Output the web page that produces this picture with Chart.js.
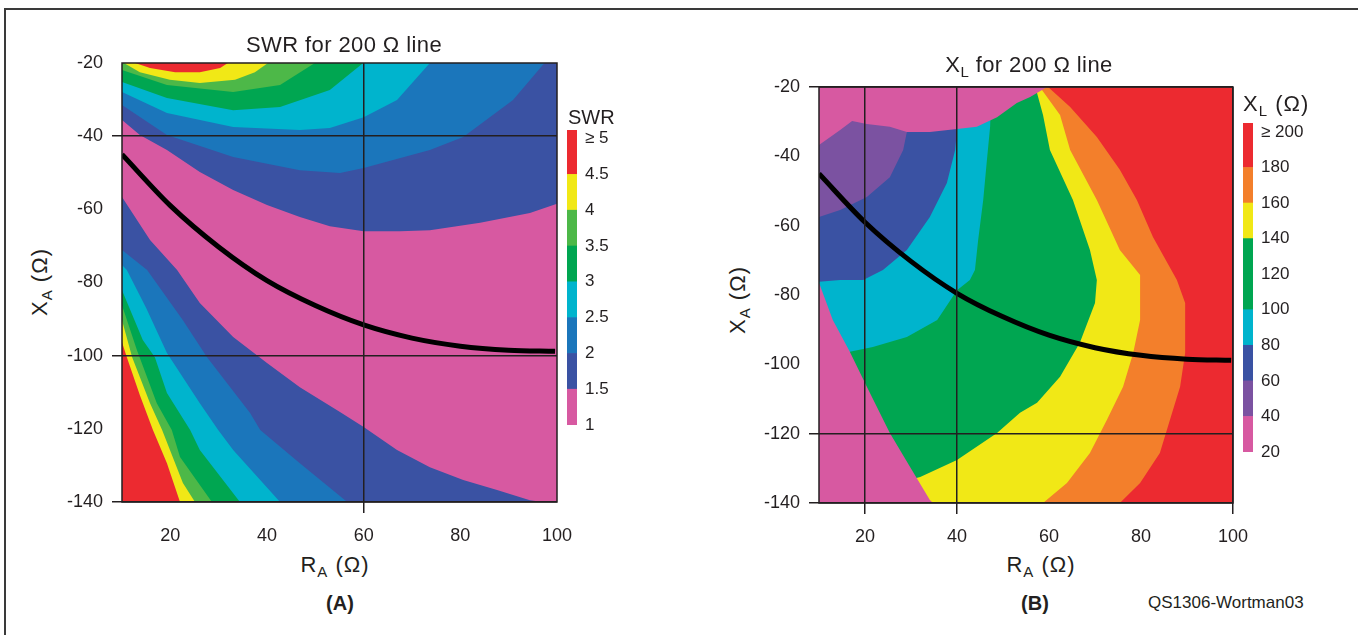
<!DOCTYPE html>
<html>
<head>
<meta charset="utf-8">
<title>SWR and XL for 200 ohm line</title>
<script src="https://cdn.jsdelivr.net/npm/chart.js@4.4.1/dist/chart.umd.min.js"></script>
<style>
  body { margin: 0; background: #fff; font-family: "Liberation Sans", Arial, sans-serif; color: #231f20; }
  #page { position: relative; width: 1358px; height: 635px; overflow: hidden; }
  #frame { position: absolute; left: 4px; top: 8px; width: 1360px; height: 640px; border-top: 2px solid #3a3a3a; border-left: 2px solid #3a3a3a; }
  canvas, .txt { position: absolute; }
  .txt { font-size: 20px; white-space: nowrap; transform: translate(-50%, -50%); }
  .txt sub { font-size: 15px; vertical-align: -5px; }
  .big { font-size: 22px; letter-spacing: 0.4px; }
  .axis { font-size: 22px; letter-spacing: 1px; }
  .rot { transform: translate(-50%, -50%) rotate(-90deg); }
  .left { transform: translate(0, -50%); }
  .bold { font-weight: bold; }
  .small { font-size: 17px; }
</style>
</head>
<body>
<div id="page">
  <div id="frame"></div>

  <canvas id="swrChart" width="527" height="512" style="left:60px; top:38px"></canvas>
  <canvas id="swrBar" width="60" height="335" style="left:567px; top:110px"></canvas>
  <canvas id="xlChart" width="508" height="489" style="left:755px; top:62px"></canvas>
  <canvas id="xlBar" width="80" height="369" style="left:1243px; top:103px"></canvas>

  <div class="txt big" style="left:344px; top:45px">SWR for 200 Ω line</div>
  <div class="txt axis rot" style="left:41px; top:282px">X<sub>A</sub> (Ω)</div>
  <div class="txt axis" style="left:335px; top:566px">R<sub>A</sub> (Ω)</div>
  <div class="txt bold" style="left:340px; top:603px">(A)</div>
  <div class="txt left" style="left:568px; top:117px">SWR</div>

  <div class="txt big" style="left:1029px; top:66px">X<sub>L</sub> for 200 Ω line</div>
  <div class="txt axis rot" style="left:739px; top:300px">X<sub>A</sub> (Ω)</div>
  <div class="txt axis" style="left:1041px; top:566px">R<sub>A</sub> (Ω)</div>
  <div class="txt bold" style="left:1035px; top:603px">(B)</div>
  <div class="txt axis left" style="left:1243px; top:105px">X<sub>L</sub> (Ω)</div>
  <div class="txt left small" style="left:1148px; top:603px">QS1306-Wortman03</div>
</div>

<script>
// axis ranges and ticks, same for both plots
const rMin = 10, rMax = 100;
const xBottom = -140, xTop = -20;
const rTicks = [20, 40, 60, 80, 100];
const xTicks = [-140, -120, -100, -80, -60, -40, -20];

// antenna path (R_A, X_A)
const pathR = [10, 20, 30, 40, 50, 60, 70, 80, 90, 99.6];
const pathX = [-45, -59, -70.3, -79.5, -86.3, -91.6, -95.2, -97.4, -98.5, -98.8];

// SWR plot: contour edges, upper family (near X = -20)
const swrUp15 = [[10, -35.6], [13.7, -39.7], [19.3, -43.8], [26.1, -49.8], [33, -54.7], [40, -58.8], [46.8, -62.1], [53, -64.6], [60, -66], [67.5, -66], [73.7, -65.7], [84.1, -63.7], [94.4, -61], [100, -58.5]];
const swrUp2 = [[10, -31.5], [19.3, -39.7], [33, -45.7], [46.8, -49.3], [55.1, -50.1], [60, -48.7], [73.7, -43.8], [80.6, -40.2], [90.9, -30.1], [97.1, -20.5], [97.5, -20]];
const swrUp25 = [[10, -27.9], [19.3, -33.7], [33, -37.5], [46.8, -38.3], [53, -37.8], [60, -34.8], [66.9, -30.1], [73.7, -20]];
const swrUp3 = [[10, -25.2], [19.3, -29.6], [33, -32.9], [42.7, -32], [53, -27.4], [59.9, -20]];
const swrUp35 = [[10, -21.9], [19.3, -26], [33, -27.9], [42.7, -26], [49.9, -20]];
const swrUp4 = [[10.4, -20], [13.7, -22.5], [19.9, -24.6], [26.1, -25.5], [33.4, -24.6], [37.5, -22.5], [40.2, -20]];
const swrUp45 = [[12.7, -20], [15.8, -21.4], [21, -22.5], [26.1, -22.5], [30.3, -21.4], [31.9, -20]];

// SWR plot: contour edges, lower family (bottom left corner)
const swrLow15 = [[10, -56.6], [15.8, -68.4], [21.4, -76.6], [26.1, -85.6], [33, -94.9], [40, -102], [46.8, -108.6], [55.1, -115.4], [60, -119.5], [66.9, -125.8], [73.7, -130.5], [80.6, -134], [87.6, -136.7], [94.4, -139.5], [97, -140]];
const swrLow2 = [[10, -71.1], [15.2, -76.6], [22.6, -90.3], [27.6, -100.4], [36.5, -115.7], [38.6, -120.3], [46.8, -129.4], [56.6, -140]];
const swrLow25 = [[10, -75.2], [11, -76.6], [15, -87], [19.3, -99.3], [26.1, -113], [29.9, -120.3], [33, -125.8], [42.7, -140]];
const swrLow3 = [[10, -82.1], [14.3, -95.7], [16.8, -100.4], [19.3, -110.2], [24.1, -120.3], [26.1, -125.8], [34.4, -140]];
const swrLow35 = [[10, -86.2], [13.1, -98.5], [17.2, -113], [20.3, -120.3], [22, -127.7], [28.6, -140]];
const swrLow4 = [[10, -90.3], [12.1, -100.4], [15.8, -113], [18.3, -120.3], [22.6, -134.8], [25.1, -140]];
const swrLow45 = [[10, -96.3], [11, -100.4], [13.7, -110.8], [16.4, -120.3], [19.3, -129.4], [22, -140]];

// XL plot: contour edges
const xlEdge180 = [[59.8, -20], [64.6, -25.8], [70.4, -34.4], [75.4, -43.9], [79.1, -52.6], [82.6, -63.3], [87.8, -75.7], [89.6, -82.3], [89.6, -96.7], [88.5, -106.5], [86.3, -116], [84.1, -125.6], [79.8, -134.2], [75.4, -140]];
const xlEdge160 = [[58, -20], [62.4, -28.1], [64.6, -38.2], [70.4, -52.6], [75.4, -67], [79.8, -74.2], [79.8, -87.2], [78.3, -96.7], [76.1, -106.5], [72.6, -116], [68.9, -125.6], [63.9, -134.2], [58.7, -140]];
const xlEdge140 = [[57, -20], [57.4, -21.7], [58.7, -28.1], [60.2, -38.2], [65.2, -52.6], [68.9, -67], [70.4, -75.7], [70, -82.3], [66.7, -93.8], [62.4, -103.6], [57.4, -111.1], [53.7, -114], [48.7, -119.8], [40, -127.6], [32, -132.5]];
const xlEdge100 = [[47.5, -20], [47.2, -31.5], [46.5, -41.1], [45.7, -52.6], [44.6, -64.1], [43.9, -72.8], [42.8, -75.7], [40, -78.6], [35.7, -87.2], [29.1, -92.1], [21.7, -95], [16.7, -96.4]];
const xlEdge80 = [[40, -20], [40, -32.4], [39.6, -38.2], [37.8, -47.7], [34.1, -57.5], [29.1, -67], [23.9, -72.8], [19.6, -75.7], [14.6, -75.7], [10, -76.2]];
const xlEdge60 = [[29.1, -20], [29.1, -33], [28.3, -38.2], [25.4, -46], [20.4, -51.7], [14.6, -55.5], [10, -57.5]];
const xlCapEdge = [[10, -36.7], [14.6, -32.4], [17.2, -29.8], [20.4, -30.7], [25.4, -31.5], [29.1, -33], [34.1, -33], [40, -32.1], [44.3, -31.5], [48.7, -28.7], [53, -24.6], [55.9, -22.9], [59.6, -20]];
const xlWedgeEdge = [[10, -76.5], [13, -87.2], [16.7, -96.4], [20.4, -106.5], [25.4, -119.8], [29.8, -129.6], [34.1, -139.1], [34.8, -140]];

// colour bar levels and labels
const swrLevels = [1, 1.5, 2, 2.5, 3, 3.5, 4, 4.5, 5];
const swrLabels = ['1', '1.5', '2', '2.5', '3', '3.5', '4', '4.5', '\u2265 5'];
const swrBarTop = 5.12;
const xlLevels = [20, 40, 60, 80, 100, 120, 140, 160, 180, 200];
const xlLabels = ['20', '40', '60', '80', '100', '120', '140', '160', '180', '\u2265 200'];
const xlBarTop = 205;

// where the black reference lines sit
const swrGridR = [60];
const swrGridX = [-40, -100, -140];
const xlGridR = [20, 40, 100];
const xlGridX = [-20, -120, -140];

const C = {
  red: '#ec2a30', orange: '#f37f2b', yellow: '#f1e816', lime: '#4db848', green: '#00a651',
  cyan: '#00b4cd', blue: '#1b76bb', navy: '#3a52a3', purple: '#7b52a1', pink: '#d759a1'
};
const ink = '#231f20';
const fontFamily = '"Liberation Sans", Arial, sans-serif';

const swrColors = [C.pink, C.navy, C.blue, C.cyan, C.green, C.lime, C.yellow, C.red];
const xlColors = [C.pink, C.purple, C.navy, C.cyan, C.green, C.green, C.yellow, C.orange, C.red];

const TL = [rMin, xTop], BL = [rMin, xBottom], TR = [rMax, xTop];

function region(edge, color, corners) {
    return { pts: edge.concat(corners), color: color };
}

const swrRegions = [
    region(swrUp15, C.navy, [TR, TL]),
    region(swrUp2, C.blue, [TL]),
    region(swrUp25, C.cyan, [TL]),
    region(swrUp3, C.green, [TL]),
    region(swrUp35, C.lime, [TL]),
    region(swrUp4, C.yellow, []),
    region(swrUp45, C.red, []),
    region(swrLow15, C.navy, [BL]),
    region(swrLow2, C.blue, [BL]),
    region(swrLow25, C.cyan, [BL]),
    region(swrLow3, C.green, [BL]),
    region(swrLow35, C.lime, [BL]),
    region(swrLow4, C.yellow, [BL]),
    region(swrLow45, C.red, [BL])
];

const xlRegions = [
    region(xlEdge180, C.orange, [BL, TL]),
    region(xlEdge160, C.yellow, [BL, TL]),
    region(xlEdge140, C.green, [BL, TL]),
    region(xlEdge100, C.cyan, [BL, TL]),
    region(xlEdge80, C.navy, [TL]),
    region(xlEdge60, C.purple, [TL]),
    region(xlCapEdge, C.pink, [TL]),
    region(xlWedgeEdge, C.pink, [BL])
];

// base colour under the contours and the box round the plot
const plotFrame = {
    id: 'plotFrame',
    beforeDatasetsDraw(chart, args, opts) {
        const a = chart.chartArea;
        const ctx = chart.ctx;
        ctx.save();
        ctx.fillStyle = opts.base;
        ctx.fillRect(a.left, a.top, a.width, a.height);
        ctx.restore();
    },
    afterDatasetsDraw(chart) {
        const a = chart.chartArea;
        const ctx = chart.ctx;
        ctx.save();
        ctx.strokeStyle = ink;
        ctx.lineWidth = 1.5;
        ctx.strokeRect(a.left, a.top, a.width, a.height);
        ctx.restore();
    }
};

function makePlot(id, base, regions, gridR, gridX, pad, yWidth) {
    const datasets = regions.map((reg, i) => ({
        data: reg.pts.map(p => ({ x: p[0], y: p[1] })),
        showLine: true,
        fill: 'shape',
        backgroundColor: reg.color,
        borderWidth: 0,
        pointRadius: 0,
        clip: false,
        order: -i
    }));
    datasets.push({
        data: pathR.map((r, i) => ({ x: r, y: pathX[i] })),
        showLine: true,
        fill: false,
        borderColor: '#000',
        borderWidth: 5,
        pointRadius: 0,
        cubicInterpolationMode: 'monotone',
        order: -1000
    });

    const lineAt = list => c => list.includes(c.tick.value) ? ink : 'rgba(0,0,0,0)';

    return new Chart(document.getElementById(id), {
        type: 'scatter',
        data: { datasets: datasets },
        plugins: [plotFrame],
        options: {
            responsive: false,
            animation: false,
            layout: { padding: pad },
            plugins: {
                legend: { display: false },
                tooltip: { enabled: false },
                plotFrame: { base: base }
            },
            scales: {
                x: {
                    type: 'linear', min: rMin, max: rMax,
                    afterBuildTicks: s => { s.ticks = rTicks.map(v => ({ value: v })); },
                    afterFit: s => { s.height = 48; },
                    grid: { z: 1, color: lineAt(gridR), lineWidth: 1.5, tickLength: 11 },
                    border: { display: false },
                    ticks: { color: ink, font: { family: fontFamily, size: 18 }, padding: 12, maxRotation: 0, autoSkip: false }
                },
                y: {
                    type: 'linear', min: xBottom, max: xTop,
                    afterBuildTicks: s => { s.ticks = xTicks.map(v => ({ value: v })); },
                    afterFit: s => { s.width = yWidth; },
                    grid: { z: 1, color: lineAt(gridX), lineWidth: 1.5, tickLength: 10 },
                    border: { display: false },
                    ticks: { color: ink, font: { family: fontFamily, size: 18 }, padding: 9, autoSkip: false }
                }
            }
        }
    });
}

function makeBar(id, levels, labels, top, colors, axisWidth) {
    const datasets = colors.map((c, i) => ({
        data: [[levels[i], i === colors.length - 1 ? top : levels[i + 1]]],
        backgroundColor: c,
        borderWidth: 0,
        grouped: false,
        barPercentage: 1,
        categoryPercentage: 1
    }));
    return new Chart(document.getElementById(id), {
        type: 'bar',
        data: { labels: [''], datasets: datasets },
        options: {
            responsive: false,
            animation: false,
            layout: { padding: { top: 20, bottom: 20, left: 0, right: 0 } },
            plugins: { legend: { display: false }, tooltip: { enabled: false } },
            scales: {
                x: { display: false },
                y: {
                    position: 'right', min: levels[0], max: top,
                    afterBuildTicks: s => { s.ticks = levels.map(v => ({ value: v })); },
                    afterFit: s => { s.width = axisWidth; },
                    grid: { display: false, drawTicks: false },
                    border: { display: false },
                    ticks: {
                        color: ink, padding: 8, autoSkip: false,
                        font: { family: fontFamily, size: 17 },
                        callback: v => labels[levels.indexOf(v)]
                    }
                }
            }
        }
    });
}

// padding is kept above the room Chart.js wants for the end labels, so the plot box lands where set
makePlot('swrChart', C.pink, swrRegions, swrGridR, swrGridX, { top: 25, right: 30, left: 0, bottom: 0 }, 62);
makePlot('xlChart', C.red, xlRegions, xlGridR, xlGridX, { top: 25, right: 30, left: 0, bottom: 0 }, 64);
makeBar('swrBar', swrLevels, swrLabels, swrBarTop, swrColors, 50);
makeBar('xlBar', xlLevels, xlLabels, xlBarTop, xlColors, 70);
</script>
</body>
</html>
